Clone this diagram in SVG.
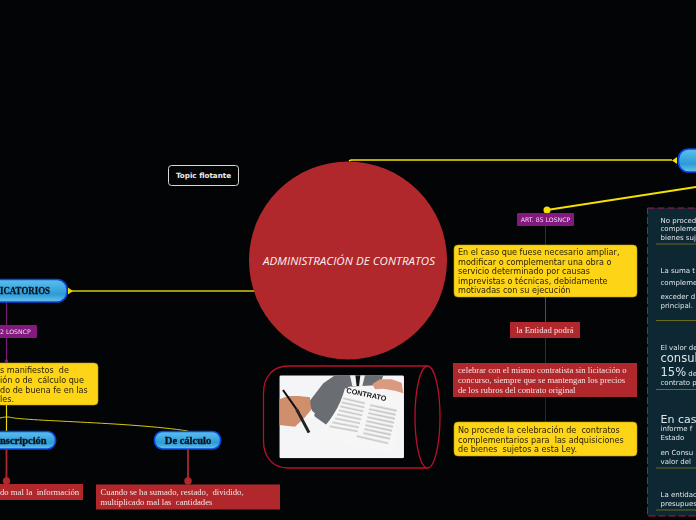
<svg xmlns="http://www.w3.org/2000/svg" width="696" height="520" viewBox="0 0 696 520">
<style>
text{white-space:pre}
.y{fill:#fdd516;stroke:#b89d10;stroke-width:.6}
.yt{font:8.1px "DejaVu Sans",sans-serif;fill:#2a2205}
.r{fill:#b0282b}
.rt{font:8.7px "Liberation Serif",serif;fill:#f3e3e3}
.n{fill:url(#b);stroke:#0d45e0;stroke-width:1.6}
.nt{font:bold 10.5px "Liberation Serif",serif;fill:#08131c;stroke:#08131c;stroke-width:.3}
.p{fill:#84197f}
.pt{font:6.2px "DejaVu Sans",sans-serif;fill:#eedcee}
.pn{font:7px "DejaVu Sans",sans-serif;fill:#dfe6e8}
.pb{font:11.5px "DejaVu Sans",sans-serif;fill:#dfe6e8}
.ol{stroke:#6d6d1e;stroke-width:1;fill:none}
</style>
<defs>
<linearGradient id="b" x1="0" y1="0" x2="0" y2="1"><stop offset="0" stop-color="#5cc0ec"/><stop offset=".65" stop-color="#2c9bd8"/><stop offset="1" stop-color="#66c4ea"/></linearGradient>
<filter id="s" x="-10%" y="-10%" width="120%" height="120%"><feGaussianBlur stdDeviation="2.200"/></filter>
<filter id="s2" x="-10%" y="-10%" width="120%" height="120%"><feGaussianBlur stdDeviation="1.200"/></filter>
<clipPath id="ph"><rect x="73" y="46" width="374" height="249" rx="5"/></clipPath>
</defs>
<rect width="696" height="520" fill="#030406"/>
<g id="connectors" fill="none">
<path d="M349 161L351 160H672" stroke="#f5e000" stroke-width="1.6"/>
<path d="M677 157V164L672 160.500Z" fill="#f5e000"/>
<path d="M547 210L696 187" stroke="#f5e000" stroke-width="2"/>
<path d="M255 291H70" stroke="#d8c80c" stroke-width="1.5"/>
<path d="M68 287.500V294.500L73 291Z" fill="#e8d80c"/>
<path d="M6.500 302V362" stroke="#7a1a78" stroke-width="1.200"/>
<path d="M6.500 405V431" stroke="#e8d80c" stroke-width="1.200"/>
<path d="M0 418C3 417 6 417 9 417C20 421 130 422 188 431" stroke="#d8c80c" stroke-width="1"/>
<path d="M6.500 449V480M188 449V480" stroke="#b0282b" stroke-width="1.800"/>
<path d="M545.500 226V245" stroke="#4a1a4a"/>
<path d="M545.500 297V322" stroke="#a02a30"/>
<path d="M545.500 338V363" stroke="#4a2030"/>
<path d="M545.500 397V422" stroke="#3a1a3a"/>
</g>
<g id="dots">
<circle cx="547" cy="210" r="3.500" fill="#f5e000"/>
<circle cx="6.500" cy="361" r="1.800" fill="#7a1a78"/>
<circle cx="6.500" cy="481" r="3.700" fill="#b0282b"/>
<circle cx="188" cy="481" r="3.700" fill="#b0282b"/>
</g>
<g id="central">
<circle cx="348" cy="260.500" r="99" fill="#b0282b"/>
<text x="263" y="264.500" textLength="172" lengthAdjust="spacing" style="font:italic 11.500px 'Open Sans',sans-serif;fill:#fbf1f1">ADMINISTRACIÓN DE CONTRATOS</text>
</g>
<g id="topic-flotante">
<rect x="168.500" y="165.500" width="70" height="20" rx="3" fill="#030406" stroke="#d8d8d8" stroke-width="1"/>
<text x="203.500" y="178" text-anchor="middle" style="font:bold 7.200px 'DejaVu Sans',sans-serif;fill:#ececec">Topic flotante</text>
</g>
<g id="image-node">
<path d="M427 366H288C272 366 263.500 378 263.500 393V441C263.500 456 272 468 288 468H427" fill="none" stroke="#b8102e" stroke-width="1.300"/>
<ellipse cx="427.500" cy="417" rx="12.500" ry="51" fill="none" stroke="#b8102e" stroke-width="1.300"/>
<g transform="translate(255 360) scale(.3333)" clip-path="url(#ph)">
<rect x="73" y="46" width="374" height="249" fill="#f5f5f7"/>
<g filter="url(#s)">
<path d="M160 128L205 70L240 46H385L375 75L280 80L262 130L215 195L180 170Z" fill="#6b6d72"/>
<path d="M420 150L435 165L428 195L418 185Z" fill="#3c3d42"/>
<path d="M285 46H330L322 78H292Z" fill="#f4f4f4"/>
<path d="M301 46H316L312 78H305Z" fill="#15161a"/>
<path d="M155 140L180 160L172 175L150 170Z" fill="#fafafa"/>
<path d="M73 118L100 108L130 108L165 112L168 150L150 172L120 200L73 195Z" fill="#cf8e6c"/>
<path d="M352 72L375 58L410 58L440 68L445 100L420 92L385 86L360 88Z" fill="#d99a80"/>
<path d="M270 85L445 125L416 282L300 260L180 226C225 190 255 140 270 85Z" fill="#f6f6f6"/>
</g>
<g filter="url(#s2)">
<path d="M84 90L125 148" stroke="#111" stroke-width="6"/>
<path d="M125 148L162 218" stroke="#222" stroke-width="9"/>
<path d="M265 115L330 130M260 127L328 142M256 139L325 154M252 151L322 166M246 163L318 178M240 175L315 190M232 187L312 202M224 199L308 214M345 135L425 152M342 147L422 164M340 159L420 176M337 171L417 188M334 183L414 200M331 195L411 212M328 207L408 224M325 219L405 236M305 228L400 250" stroke="#a8a8a8" stroke-width="4" opacity=".75"/>
</g>
<text x="273" y="98" transform="rotate(12 273 98)" style="font:bold 22px 'Liberation Sans',sans-serif;fill:#1a1a1a">CONTRATO</text>
</g>
</g>
<g id="node-rectificatorios">
<rect x="-40" y="279.500" width="107" height="22.500" rx="10" class="n"/>
<text x="0" y="294" class="nt" textLength="50" lengthAdjust="spacingAndGlyphs">ICATORIOS</text>
</g>
<g id="tag-losncp">
<rect x="-10" y="325" width="47" height="13" rx="1.500" class="p"/>
<text x="0" y="334" class="pt">2 LOSNCP</text>
</g>
<g id="box-errores">
<rect x="-30" y="363" width="128" height="42" rx="4" class="y"/>
<text class="yt"><tspan x="0" y="373">s manifiestos  de</tspan><tspan x="0" y="383">ión o de  cálculo que</tspan><tspan x="0" y="392.500">do de buena fe en las</tspan><tspan x="0" y="402">les.</tspan></text>
</g>
<g id="node-transcripcion">
<rect x="-30" y="431.500" width="85.500" height="17.500" rx="8" class="n"/>
<text x="0" y="444" class="nt">nscripción</text>
</g>
<g id="node-calculo">
<rect x="154.500" y="431.500" width="66" height="17.500" rx="8" class="n"/>
<text x="188" y="444" text-anchor="middle" class="nt">De cálculo</text>
</g>
<g id="box-informacion">
<rect x="-40" y="484" width="123" height="16" class="r"/>
<text x="0" y="495" class="rt">do mal la  información</text>
</g>
<g id="box-cantidades">
<rect x="96" y="484.500" width="184" height="25" class="r"/>
<text class="rt"><tspan x="100.500" y="495">Cuando se ha sumado, restado,  dividido,</tspan><tspan x="100.500" y="505">multiplicado mal las  cantidades</tspan></text>
</g>
<g id="tag-art85">
<rect x="517" y="213" width="57" height="13" rx="1" class="p"/>
<text x="545.500" y="221.500" text-anchor="middle" class="pt">ART. 85 LOSNCP</text>
</g>
<g id="box-caso">
<rect x="454" y="245" width="183" height="52" rx="4" class="y"/>
<text class="yt"><tspan x="458" y="255">En el caso que fuese necesario ampliar,</tspan><tspan x="458" y="265">modificar o complementar una obra o</tspan><tspan x="458" y="274">servicio determinado por causas</tspan><tspan x="458" y="284">imprevistas o técnicas, debidamente</tspan><tspan x="458" y="293">motivadas con su ejecución</tspan></text>
</g>
<g id="tag-entidad">
<rect x="510" y="322" width="70" height="16" class="r"/>
<text x="545" y="333" text-anchor="middle" class="rt">la Entidad podrá</text>
</g>
<g id="box-celebrar">
<rect x="453" y="363" width="184" height="34" class="r"/>
<text class="rt"><tspan x="458" y="373">celebrar con el mismo contratista sin licitación o</tspan><tspan x="458" y="383">concurso, siempre que se mantengan los precios</tspan><tspan x="458" y="392.500">de los rubros del contrato original</tspan></text>
</g>
<g id="box-noprocede">
<rect x="454" y="422" width="183" height="34" rx="4" class="y"/>
<text class="yt"><tspan x="458" y="433">No procede la celebración de  contratos</tspan><tspan x="458" y="442.500">complementarios para  las adquisiciones</tspan><tspan x="458" y="452">de bienes  sujetos a esta Ley.</tspan></text>
</g>
<g id="node-top">
<rect x="678.500" y="149" width="40" height="23" rx="10" class="n"/>
</g>
<g id="panel">
<rect x="647.500" y="208" width="70" height="308" fill="#0d2733" stroke="#b0144f" stroke-width="1" stroke-dasharray="7 3"/>
<path d="M656 244H696M656 320.500H696M656 389.500H696M656 468H696M656 510H696" class="ol"/>
<text class="pn"><tspan x="660.500" y="223">No proced</tspan><tspan x="660.500" y="231">compleme</tspan><tspan x="660.500" y="240">bienes suj</tspan></text>
<text class="pn"><tspan x="660.500" y="273">La suma t</tspan><tspan x="660.500" y="285">compleme</tspan><tspan x="660.500" y="298.500">exceder d</tspan><tspan x="660.500" y="308">principal.</tspan></text>
<text x="660.500" y="350" class="pn">El valor de</text>
<text x="660.500" y="362" class="pb">consul</text>
<text x="660.500" y="376" class="pb">15%<tspan style="font-size:7px"> de</tspan></text>
<text x="660.500" y="385" class="pn">contrato p</text>
<text x="660.500" y="422.500" class="pb" style="font-size:11px">En caso</text>
<text class="pn"><tspan x="660.500" y="431">informe f</tspan><tspan x="660.500" y="440">Estado</tspan><tspan x="660.500" y="454.500">en Consu</tspan><tspan x="660.500" y="464">valor del</tspan><tspan x="660.500" y="497">La entidad</tspan><tspan x="660.500" y="506">presupues</tspan></text>
</g>
</svg>
